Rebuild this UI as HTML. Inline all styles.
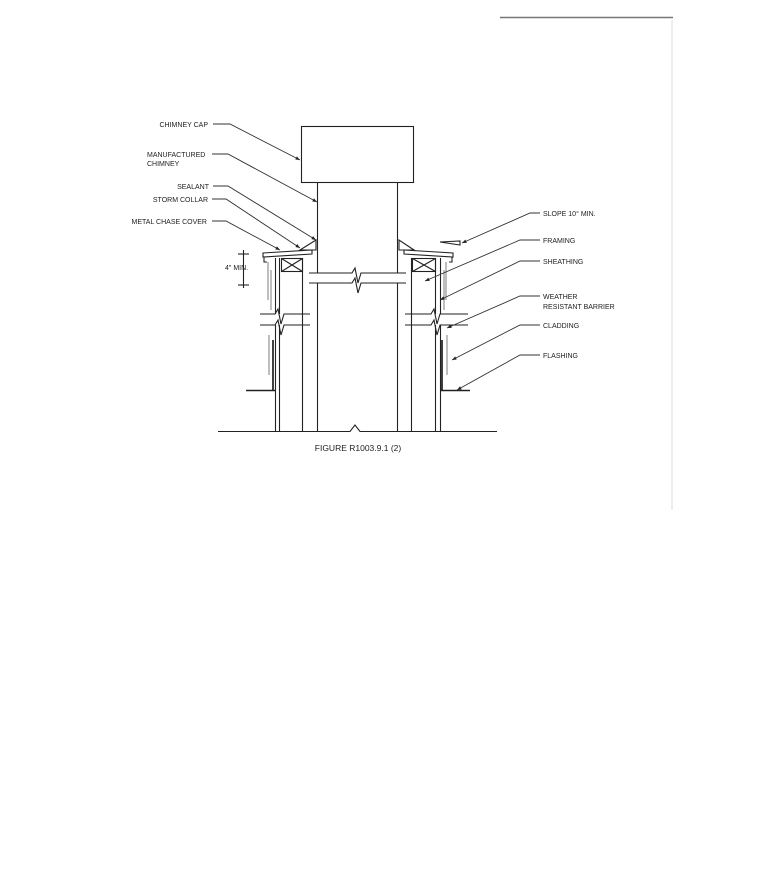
<!DOCTYPE html>
<html><head><meta charset="utf-8"><style>
html,body{margin:0;padding:0;background:#fff}
svg{display:block}
text{font-family:"Liberation Sans",sans-serif;font-size:7px;fill:#222}
</style></head><body>
<svg width="760" height="895" viewBox="0 0 760 895" xmlns="http://www.w3.org/2000/svg">
<defs>
<marker id="a" viewBox="0 0 10 10" refX="10" refY="5" markerWidth="5" markerHeight="5" orient="auto"><path d="M0,1 L10,5 L0,9 z" fill="#222"/></marker>
</defs>
<g stroke="#777" fill="none">
<line x1="500" y1="17.5" x2="673" y2="17.5" stroke="#777" stroke-width="1.5"/>
<line x1="672" y1="20" x2="672" y2="510" stroke="#ddd" stroke-width="1"/>
</g>
<g stroke="#222" stroke-width="1.1" fill="none">
<rect x="301.5" y="126.5" width="112" height="56"/>
<line x1="317.5" y1="182" x2="317.5" y2="273"/>
<line x1="317.5" y1="283" x2="317.5" y2="431"/>
<line x1="397.5" y1="182" x2="397.5" y2="273"/>
<line x1="397.5" y1="283" x2="397.5" y2="431"/>
<polyline points="309,273 352,273 355,268 358,283 361,273 406,273"/>
<polyline points="309,283 352,283 355,278 358,293 361,283 406,283"/>
<polyline points="218,431.5 350,431.5 355,425 360,431.5 497,431.5"/>
<line x1="275.5" y1="258" x2="275.5" y2="314"/><line x1="275.5" y1="325" x2="275.5" y2="431"/>
<line x1="279.5" y1="258" x2="279.5" y2="314"/><line x1="279.5" y1="325" x2="279.5" y2="431"/>
<line x1="302.5" y1="258" x2="302.5" y2="431"/>
<rect x="281.5" y="258.5" width="21" height="13"/>
<line x1="281.5" y1="258.5" x2="302.5" y2="271.5"/><line x1="302.5" y1="258.5" x2="281.5" y2="271.5"/>
<polyline points="260,314 275,314 278,309 281,324 284,314 310,314"/>
<polyline points="260,325 275,325 278,320 281,335 284,325 310,325"/>
<polygon points="263,253 312,250 312,254 263,257"/>
<polyline points="264,257 264,262 267,262"/>
<polygon points="300,250 316,240 316,250"/>
<line x1="268" y1="262" x2="268" y2="300" stroke="#888"/>
<line x1="271" y1="270" x2="271" y2="310" stroke="#888"/>
<line x1="269" y1="335" x2="269" y2="375" stroke="#888"/>
<line x1="273" y1="340" x2="273" y2="390" stroke="#111" stroke-width="1.6"/>
<polyline points="246,390.5 275,390.5" stroke-width="1.6"/>
<line x1="411.5" y1="258" x2="411.5" y2="431"/>
<line x1="435.5" y1="258" x2="435.5" y2="314"/><line x1="435.5" y1="325" x2="435.5" y2="431"/>
<line x1="440.5" y1="258" x2="440.5" y2="314"/><line x1="440.5" y1="325" x2="440.5" y2="431"/>
<rect x="412.5" y="258.5" width="23" height="13"/>
<line x1="412.5" y1="258.5" x2="435.5" y2="271.5"/><line x1="435.5" y1="258.5" x2="412.5" y2="271.5"/>
<polyline points="405,314 431,314 434,309 437,324 440,314 468,314"/>
<polyline points="405,325 431,325 434,320 437,335 440,325 468,325"/>
<polygon points="404,250 453,253 453,257 404,254"/>
<polyline points="452,257 452,262 449,262"/>
<polygon points="399,240 399,250 414,250"/>
<line x1="446" y1="262" x2="446" y2="300" stroke="#888"/>
<line x1="444" y1="270" x2="444" y2="310" stroke="#888"/>
<line x1="447" y1="335" x2="447" y2="375" stroke="#888"/>
<line x1="442" y1="340" x2="442" y2="390" stroke="#111" stroke-width="1.6"/>
<polyline points="441,390.5 470,390.5" stroke-width="1.6"/>
<polygon points="440,242 460,241 460,245"/>
<line x1="243.5" y1="250" x2="243.5" y2="288"/>
<line x1="238" y1="254" x2="249" y2="254"/><line x1="238" y1="285" x2="249" y2="285"/>
</g>
<g stroke="#333" stroke-width="0.9" fill="none" marker-end="url(#a)">
<polyline points="213,124 230,124 300,160"/>
<polyline points="212,154 228,154 317,202"/>
<polyline points="213,186 228,186 316,240"/>
<polyline points="212,199 226,199 300,248"/>
<polyline points="212,221 226,221 280,250"/>
<polyline points="540,213 530,213 462,243"/>
<polyline points="540,240 520,240 425,281"/>
<polyline points="540,261 520,261 440,300"/>
<polyline points="540,296 520,296 447,328"/>
<polyline points="540,325 520,325 452,360"/>
<polyline points="540,355 520,355 457,390"/>
</g>
<text x="208" y="127" text-anchor="end">CHIMNEY CAP</text>
<text x="147" y="157">MANUFACTURED</text>
<text x="147" y="166">CHIMNEY</text>
<text x="209" y="189" text-anchor="end">SEALANT</text>
<text x="208" y="202" text-anchor="end">STORM COLLAR</text>
<text x="207" y="224" text-anchor="end">METAL CHASE COVER</text>
<text x="225" y="270">4" MIN.</text>
<text x="543" y="216">SLOPE 10° MIN.</text>
<text x="543" y="243">FRAMING</text>
<text x="543" y="264">SHEATHING</text>
<text x="543" y="299">WEATHER</text>
<text x="543" y="309">RESISTANT BARRIER</text>
<text x="543" y="328">CLADDING</text>
<text x="543" y="358">FLASHING</text>
<text x="358" y="451" text-anchor="middle" style="font-size:8.5px">FIGURE R1003.9.1 (2)</text>
</svg>
</body></html>
